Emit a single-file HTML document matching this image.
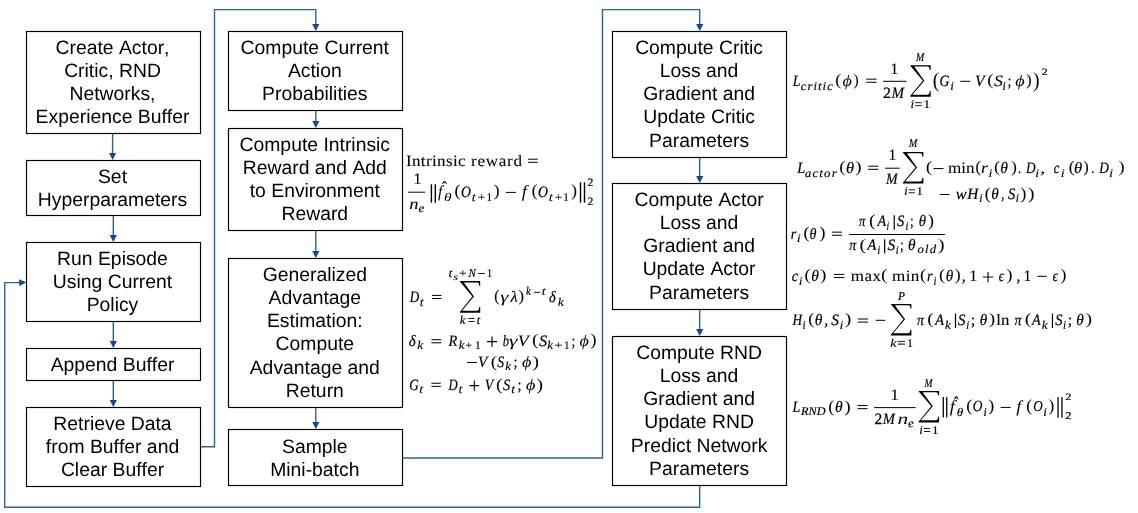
<!DOCTYPE html>
<html><head><meta charset="utf-8"><title>Diagram</title>
<style>
html,body{margin:0;padding:0;background:#fff;}
html,body{overflow:hidden;}
svg{display:block;font-kerning:none;text-rendering:geometricPrecision;will-change:transform;}
text{fill:#000;}
</style></head><body>
<svg width="1138" height="513" viewBox="0 0 1138 513">

<rect x="111.90" y="134.00" width="1.40" height="19.50" fill="#2864a3"/>
<path d="M109.00,153.00 L116.20,153.00 L112.60,160.00 Z" fill="#0f4b90"/>
<rect x="112.60" y="216.00" width="1.40" height="19.50" fill="#2864a3"/>
<path d="M109.70,235.00 L116.90,235.00 L113.30,242.00 Z" fill="#0f4b90"/>
<rect x="112.60" y="322.00" width="1.40" height="19.50" fill="#2864a3"/>
<path d="M109.70,341.00 L116.90,341.00 L113.30,348.00 Z" fill="#0f4b90"/>
<rect x="112.60" y="381.00" width="1.40" height="19.50" fill="#2864a3"/>
<path d="M109.70,400.00 L116.90,400.00 L113.30,407.00 Z" fill="#0f4b90"/>
<rect x="315.10" y="111.00" width="1.40" height="10.50" fill="#2864a3"/>
<path d="M312.20,121.00 L319.40,121.00 L315.80,128.00 Z" fill="#0f4b90"/>
<rect x="315.10" y="231.00" width="1.40" height="20.50" fill="#2864a3"/>
<path d="M312.20,251.00 L319.40,251.00 L315.80,258.00 Z" fill="#0f4b90"/>
<rect x="315.10" y="408.00" width="1.40" height="14.50" fill="#2864a3"/>
<path d="M312.20,422.00 L319.40,422.00 L315.80,429.00 Z" fill="#0f4b90"/>
<rect x="699.00" y="158.00" width="1.40" height="18.50" fill="#2864a3"/>
<path d="M696.10,176.00 L703.30,176.00 L699.70,183.00 Z" fill="#0f4b90"/>
<rect x="699.00" y="310.00" width="1.40" height="19.50" fill="#2864a3"/>
<path d="M696.10,329.00 L703.30,329.00 L699.70,336.00 Z" fill="#0f4b90"/>
<path d="M201.00,446.80 L214.50,446.80 L214.50,9.60 L315.80,9.60 L315.80,24.50" fill="none" stroke="#2864a3" stroke-width="1.4" stroke-linejoin="miter"/>
<rect x="315.10" y="24.00" width="1.40" height="0.50" fill="#2864a3"/>
<path d="M312.20,24.00 L319.40,24.00 L315.80,31.00 Z" fill="#0f4b90"/>
<path d="M403.00,458.00 L602.50,458.00 L602.50,9.60 L699.70,9.60 L699.70,24.50" fill="none" stroke="#2864a3" stroke-width="1.4" stroke-linejoin="miter"/>
<rect x="699.00" y="24.00" width="1.40" height="0.50" fill="#2864a3"/>
<path d="M696.10,24.00 L703.30,24.00 L699.70,31.00 Z" fill="#0f4b90"/>
<path d="M699.70,486.00 L699.70,507.30 L4.70,507.30 L4.70,282.60 L19.60,282.60" fill="none" stroke="#2864a3" stroke-width="1.4" stroke-linejoin="miter"/>
<rect x="19.00" y="281.90" width="0.70" height="1.40" fill="#2864a3"/>
<path d="M19.20,279.20 L19.20,286.00 L26.20,282.60 Z" fill="#0f4b90"/>
<rect x="26.5" y="31.5" width="174" height="102" fill="#fff" stroke="#000" stroke-width="1.15"/>
<text x="112.50" y="53.70" text-anchor="middle" font-family="Liberation Sans" font-size="19.35">Create Actor,</text>
<text x="112.50" y="76.80" text-anchor="middle" font-family="Liberation Sans" font-size="19.35">Critic, RND</text>
<text x="112.50" y="99.90" text-anchor="middle" font-family="Liberation Sans" font-size="19.35">Networks,</text>
<text x="112.50" y="123.00" text-anchor="middle" font-family="Liberation Sans" font-size="19.35">Experience Buffer</text>
<rect x="26.5" y="160.5" width="174" height="55" fill="#fff" stroke="#000" stroke-width="1.15"/>
<text x="112.50" y="183.15" text-anchor="middle" font-family="Liberation Sans" font-size="19.35">Set</text>
<text x="112.50" y="206.25" text-anchor="middle" font-family="Liberation Sans" font-size="19.35">Hyperparameters</text>
<rect x="26.5" y="242.5" width="174" height="79" fill="#fff" stroke="#000" stroke-width="1.15"/>
<text x="112.50" y="264.75" text-anchor="middle" font-family="Liberation Sans" font-size="19.35">Run Episode</text>
<text x="112.50" y="287.85" text-anchor="middle" font-family="Liberation Sans" font-size="19.35">Using Current</text>
<text x="112.50" y="310.95" text-anchor="middle" font-family="Liberation Sans" font-size="19.35">Policy</text>
<rect x="26.5" y="348.5" width="174" height="32" fill="#fff" stroke="#000" stroke-width="1.15"/>
<text x="112.50" y="370.95" text-anchor="middle" font-family="Liberation Sans" font-size="19.35">Append Buffer</text>
<rect x="26.5" y="407.5" width="174" height="79" fill="#fff" stroke="#000" stroke-width="1.15"/>
<text x="112.50" y="429.75" text-anchor="middle" font-family="Liberation Sans" font-size="19.35">Retrieve Data</text>
<text x="112.50" y="452.85" text-anchor="middle" font-family="Liberation Sans" font-size="19.35">from Buffer and</text>
<text x="112.50" y="475.95" text-anchor="middle" font-family="Liberation Sans" font-size="19.35">Clear Buffer</text>
<rect x="228.5" y="31.5" width="174" height="79" fill="#fff" stroke="#000" stroke-width="1.15"/>
<text x="314.80" y="53.75" text-anchor="middle" font-family="Liberation Sans" font-size="19.35">Compute Current</text>
<text x="314.80" y="76.85" text-anchor="middle" font-family="Liberation Sans" font-size="19.35">Action</text>
<text x="314.80" y="99.95" text-anchor="middle" font-family="Liberation Sans" font-size="19.35">Probabilities</text>
<rect x="228.5" y="128.5" width="174" height="102" fill="#fff" stroke="#000" stroke-width="1.15"/>
<text x="314.80" y="150.70" text-anchor="middle" font-family="Liberation Sans" font-size="19.35">Compute Intrinsic</text>
<text x="314.80" y="173.80" text-anchor="middle" font-family="Liberation Sans" font-size="19.35">Reward and Add</text>
<text x="314.80" y="196.90" text-anchor="middle" font-family="Liberation Sans" font-size="19.35">to Environment</text>
<text x="314.80" y="220.00" text-anchor="middle" font-family="Liberation Sans" font-size="19.35">Reward</text>
<rect x="228.5" y="258.5" width="174" height="149" fill="#fff" stroke="#000" stroke-width="1.15"/>
<text x="314.80" y="281.10" text-anchor="middle" font-family="Liberation Sans" font-size="19.35">Generalized</text>
<text x="314.80" y="304.20" text-anchor="middle" font-family="Liberation Sans" font-size="19.35">Advantage</text>
<text x="314.80" y="327.30" text-anchor="middle" font-family="Liberation Sans" font-size="19.35">Estimation:</text>
<text x="314.80" y="350.40" text-anchor="middle" font-family="Liberation Sans" font-size="19.35">Compute</text>
<text x="314.80" y="373.50" text-anchor="middle" font-family="Liberation Sans" font-size="19.35">Advantage and</text>
<text x="314.80" y="396.60" text-anchor="middle" font-family="Liberation Sans" font-size="19.35">Return</text>
<rect x="228.5" y="429.5" width="174" height="56" fill="#fff" stroke="#000" stroke-width="1.15"/>
<text x="314.80" y="452.65" text-anchor="middle" font-family="Liberation Sans" font-size="19.35">Sample</text>
<text x="314.80" y="475.75" text-anchor="middle" font-family="Liberation Sans" font-size="19.35">Mini-batch</text>
<rect x="612.5" y="31.5" width="174" height="126" fill="#fff" stroke="#000" stroke-width="1.15"/>
<text x="699.10" y="54.15" text-anchor="middle" font-family="Liberation Sans" font-size="19.35">Compute Critic</text>
<text x="699.10" y="77.25" text-anchor="middle" font-family="Liberation Sans" font-size="19.35">Loss and</text>
<text x="699.10" y="100.35" text-anchor="middle" font-family="Liberation Sans" font-size="19.35">Gradient and</text>
<text x="699.10" y="123.45" text-anchor="middle" font-family="Liberation Sans" font-size="19.35">Update Critic</text>
<text x="699.10" y="146.55" text-anchor="middle" font-family="Liberation Sans" font-size="19.35">Parameters</text>
<rect x="612.5" y="183.5" width="174" height="126" fill="#fff" stroke="#000" stroke-width="1.15"/>
<text x="699.10" y="206.15" text-anchor="middle" font-family="Liberation Sans" font-size="19.35">Compute Actor</text>
<text x="699.10" y="229.25" text-anchor="middle" font-family="Liberation Sans" font-size="19.35">Loss and</text>
<text x="699.10" y="252.35" text-anchor="middle" font-family="Liberation Sans" font-size="19.35">Gradient and</text>
<text x="699.10" y="275.45" text-anchor="middle" font-family="Liberation Sans" font-size="19.35">Update Actor</text>
<text x="699.10" y="298.55" text-anchor="middle" font-family="Liberation Sans" font-size="19.35">Parameters</text>
<rect x="612.5" y="336.5" width="174" height="149" fill="#fff" stroke="#000" stroke-width="1.15"/>
<text x="699.10" y="359.10" text-anchor="middle" font-family="Liberation Sans" font-size="19.35">Compute RND</text>
<text x="699.10" y="382.20" text-anchor="middle" font-family="Liberation Sans" font-size="19.35">Loss and</text>
<text x="699.10" y="405.30" text-anchor="middle" font-family="Liberation Sans" font-size="19.35">Gradient and</text>
<text x="699.10" y="428.40" text-anchor="middle" font-family="Liberation Sans" font-size="19.35">Update RND</text>
<text x="699.10" y="451.50" text-anchor="middle" font-family="Liberation Sans" font-size="19.35">Predict Network</text>
<text x="699.10" y="474.60" text-anchor="middle" font-family="Liberation Sans" font-size="19.35">Parameters</text>
<text transform="translate(405.89 166.00) scale(1.080 1.000)" font-family="Liberation Serif" font-style="normal" font-size="15.8" letter-spacing="0.34" stroke="#000" stroke-width="0.089">Intrinsic</text>
<text transform="translate(470.96 166.00) scale(1.080 1.000)" font-family="Liberation Serif" font-style="normal" font-size="15.8" letter-spacing="0.68" stroke="#000" stroke-width="0.089">reward</text>
<rect x="528.00" y="158.70" width="9.70" height="1.00" fill="#000"/>
<rect x="528.00" y="161.80" width="9.70" height="1.00" fill="#000"/>
<text transform="translate(413.40 183.80) scale(1.007 1.000)" font-family="Liberation Serif" font-style="normal" font-size="15.8" stroke="#000" stroke-width="0.115">1</text>
<rect x="408.20" y="191.70" width="16.80" height="1.00" fill="#000"/>
<text transform="translate(409.33 208.90) scale(1.170 1.000)" font-family="Liberation Serif" font-style="italic" font-size="15.8" stroke="#000" stroke-width="0.071">n</text>
<text transform="translate(418.39 212.00) scale(1.108 1.000)" font-family="Liberation Serif" font-style="italic" font-size="11.8" stroke="#000" stroke-width="0.139">e</text>
<rect x="430.70" y="184.30" width="1.40" height="18.40" fill="#000"/>
<rect x="434.60" y="184.30" width="1.40" height="18.40" fill="#000"/>
<text transform="translate(437.93 196.67) scale(0.994 1.049)" font-family="Liberation Serif" font-style="italic" font-size="15.8">f</text>
<text transform="translate(441.97 193.16) scale(0.921 1.062)" font-family="Liberation Serif" font-style="normal" font-size="15.8" stroke="#000" stroke-width="0.15">ˆ</text>
<text transform="translate(443.94 200.50) scale(1.315 1.000)" font-family="Liberation Serif" font-style="italic" font-size="11.8" stroke="#000" stroke-width="0.022">θ</text>
<text transform="translate(454.43 196.38) scale(1.108 1.047)" font-family="Liberation Serif" font-style="normal" font-size="15.8" stroke="#000" stroke-width="0.068">(</text>
<text transform="translate(461.11 196.64) scale(0.868 1.008)" font-family="Liberation Serif" font-style="italic" font-size="15.8" stroke="#000" stroke-width="0.2">O</text>
<text transform="translate(471.69 201.00) scale(1.168 1.000)" font-family="Liberation Serif" font-style="italic" font-size="11.8" stroke="#000" stroke-width="0.105">t</text>
<text transform="translate(477.75 200.50) scale(1.093 1.000)" font-family="Liberation Serif" font-style="normal" font-size="11.8" stroke="#000" stroke-width="0.05">+</text>
<text transform="translate(486.33 201.00) scale(1.035 1.000)" font-family="Liberation Serif" font-style="normal" font-size="11.8" stroke="#000" stroke-width="0.1">1</text>
<text transform="translate(493.64 196.38) scale(1.108 1.047)" font-family="Liberation Serif" font-style="normal" font-size="15.8" stroke="#000" stroke-width="0.068">)</text>
<rect x="505.90" y="191.90" width="10.00" height="1.00" fill="#000"/>
<text transform="translate(521.63 197.08) scale(1.150 1.077)" font-family="Liberation Serif" font-style="italic" font-size="15.8">f</text>
<text transform="translate(531.76 196.41) scale(1.059 1.068)" font-family="Liberation Serif" font-style="normal" font-size="15.8" stroke="#000" stroke-width="0.105">(</text>
<text transform="translate(538.11 196.64) scale(0.868 1.008)" font-family="Liberation Serif" font-style="italic" font-size="15.8" stroke="#000" stroke-width="0.2">O</text>
<text transform="translate(548.66 201.00) scale(1.234 1.000)" font-family="Liberation Serif" font-style="italic" font-size="11.8" stroke="#000" stroke-width="0.067">t</text>
<text transform="translate(554.64 200.50) scale(1.112 1.000)" font-family="Liberation Serif" font-style="normal" font-size="11.8" stroke="#000" stroke-width="0.05">+</text>
<text transform="translate(563.02 201.00) scale(1.035 1.000)" font-family="Liberation Serif" font-style="normal" font-size="11.8" stroke="#000" stroke-width="0.1">1</text>
<text transform="translate(571.25 196.41) scale(1.084 1.068)" font-family="Liberation Serif" font-style="normal" font-size="15.8" stroke="#000" stroke-width="0.087">)</text>
<rect x="579.80" y="182.30" width="1.40" height="20.40" fill="#000"/>
<rect x="583.80" y="182.30" width="1.40" height="20.40" fill="#000"/>
<text transform="translate(587.48 185.90) scale(0.993 0.947)" font-family="Liberation Serif" font-style="normal" font-size="11.8" stroke="#000" stroke-width="0.25">2</text>
<text transform="translate(587.48 204.70) scale(0.993 0.960)" font-family="Liberation Serif" font-style="normal" font-size="11.8" stroke="#000" stroke-width="0.25">2</text>
<text transform="translate(409.64 301.80) scale(0.829 1.000)" font-family="Liberation Serif" font-style="italic" font-size="15.8" stroke="#000" stroke-width="0.2">D</text>
<text transform="translate(419.71 305.50) scale(1.134 1.000)" font-family="Liberation Serif" font-style="italic" font-size="11.8" stroke="#000" stroke-width="0.124">t</text>
<rect x="432.00" y="294.90" width="9.50" height="1.00" fill="#000"/>
<rect x="432.00" y="298.00" width="9.50" height="1.00" fill="#000"/>
<text transform="translate(448.59 276.90) scale(1.168 1.000)" font-family="Liberation Serif" font-style="italic" font-size="11.8" stroke="#000" stroke-width="0.105">t</text>
<text transform="translate(453.35 279.80) scale(1.261 1.000)" font-family="Liberation Serif" font-style="italic" font-size="9.6" stroke="#000" stroke-width="0.08">s</text>
<text transform="translate(459.11 276.90) scale(1.166 1.000)" font-family="Liberation Serif" font-style="normal" font-size="11.8" stroke="#000" stroke-width="0.05">+</text>
<text transform="translate(468.58 276.90) scale(0.930 1.000)" font-family="Liberation Serif" font-style="italic" font-size="11.8" stroke="#000" stroke-width="0.2">N</text>
<rect x="478.20" y="273.05" width="6.60" height="0.90" fill="#000"/>
<text transform="translate(486.55 276.90) scale(1.011 1.000)" font-family="Liberation Serif" font-style="normal" font-size="11.8" stroke="#000" stroke-width="0.114">1</text>
<path d="M460.00,281.10 L480.20,281.10 L480.20,285.84 L479.29,285.84 L478.79,283.31 L477.57,282.43 L463.84,282.43 L473.94,296.58 L462.02,310.65 L477.37,310.65 L478.79,309.54 L479.29,307.01 L480.20,307.01 L480.20,312.70 L460.00,312.70 L460.00,311.82 L472.42,296.58 L460.00,281.73 Z" fill="#000"/>
<text transform="translate(459.83 323.70) scale(1.067 1.000)" font-family="Liberation Serif" font-style="italic" font-size="11.8" stroke="#000" stroke-width="0.162">k</text>
<rect x="468.40" y="317.95" width="6.20" height="0.90" fill="#000"/>
<rect x="468.40" y="321.05" width="6.20" height="0.90" fill="#000"/>
<text transform="translate(476.59 323.70) scale(1.168 1.000)" font-family="Liberation Serif" font-style="italic" font-size="11.8" stroke="#000" stroke-width="0.105">t</text>
<text transform="translate(494.23 301.29) scale(0.960 1.012)" font-family="Liberation Serif" font-style="normal" font-size="15.8" stroke="#000" stroke-width="0.15">(</text>
<text transform="translate(500.13 301.80) scale(1.304 1.000)" font-family="Liberation Serif" font-style="italic" font-size="15.8">γ</text>
<text transform="translate(510.39 301.80) scale(1.040 1.000)" font-family="Liberation Serif" font-style="italic" font-size="15.8" stroke="#000" stroke-width="0.17">λ</text>
<text transform="translate(518.56 301.29) scale(1.059 1.012)" font-family="Liberation Serif" font-style="normal" font-size="15.8" stroke="#000" stroke-width="0.105">)</text>
<text transform="translate(525.89 295.40) scale(0.909 1.000)" font-family="Liberation Serif" font-style="italic" font-size="11.8" stroke="#000" stroke-width="0.2">k</text>
<rect x="533.90" y="291.85" width="6.40" height="0.90" fill="#000"/>
<text transform="translate(541.43 295.40) scale(1.350 1.000)" font-family="Liberation Serif" font-style="italic" font-size="11.8" stroke="#000" stroke-width="0.002">t</text>
<text transform="translate(548.88 301.60) scale(0.916 1.000)" font-family="Liberation Serif" font-style="italic" font-size="15.8" stroke="#000" stroke-width="0.2">δ</text>
<text transform="translate(557.71 305.60) scale(1.146 1.000)" font-family="Liberation Serif" font-style="italic" font-size="11.8" stroke="#000" stroke-width="0.117">k</text>
<text transform="translate(408.77 345.70) scale(0.944 1.000)" font-family="Liberation Serif" font-style="italic" font-size="15.8" stroke="#000" stroke-width="0.2">δ</text>
<text transform="translate(417.21 348.80) scale(1.126 1.000)" font-family="Liberation Serif" font-style="italic" font-size="11.8" stroke="#000" stroke-width="0.129">k</text>
<rect x="431.40" y="339.20" width="9.80" height="1.00" fill="#000"/>
<rect x="431.40" y="342.30" width="9.80" height="1.00" fill="#000"/>
<text transform="translate(448.57 345.70) scale(0.909 1.000)" font-family="Liberation Serif" font-style="italic" font-size="15.8" stroke="#000" stroke-width="0.2">R</text>
<text transform="translate(458.73 348.80) scale(1.067 1.000)" font-family="Liberation Serif" font-style="italic" font-size="11.8" stroke="#000" stroke-width="0.162">k</text>
<text transform="translate(465.52 348.80) scale(0.984 1.000)" font-family="Liberation Serif" font-style="normal" font-size="11.8" stroke="#000" stroke-width="0.05">+</text>
<text transform="translate(474.43 348.80) scale(1.132 1.000)" font-family="Liberation Serif" font-style="normal" font-size="11.8" stroke="#000" stroke-width="0.045">1</text>
<text transform="translate(486.02 348.79) scale(1.361 1.399)" font-family="Liberation Serif" font-style="normal" font-size="15.8" stroke="#000" stroke-width="0.05">+</text>
<text transform="translate(502.80 345.70) scale(0.800 1.000)" font-family="Liberation Serif" font-style="italic" font-size="15.8" stroke="#000" stroke-width="0.2">b</text>
<text transform="translate(509.07 345.70) scale(1.350 1.000)" font-family="Liberation Serif" font-style="italic" font-size="15.8">γ</text>
<text transform="translate(517.77 345.70) scale(1.131 1.000)" font-family="Liberation Serif" font-style="italic" font-size="15.8" stroke="#000" stroke-width="0.101">V</text>
<text transform="translate(532.09 344.82) scale(1.250 1.033)" font-family="Liberation Serif" font-style="normal" font-size="15.8">(</text>
<text transform="translate(538.90 345.70) scale(1.033 1.000)" font-family="Liberation Serif" font-style="italic" font-size="15.8" stroke="#000" stroke-width="0.175">S</text>
<text transform="translate(547.33 348.80) scale(1.067 1.000)" font-family="Liberation Serif" font-style="italic" font-size="11.8" stroke="#000" stroke-width="0.162">k</text>
<text transform="translate(554.60 348.80) scale(1.185 1.000)" font-family="Liberation Serif" font-style="normal" font-size="11.8" stroke="#000" stroke-width="0.05">+</text>
<text transform="translate(564.12 348.80) scale(0.939 1.000)" font-family="Liberation Serif" font-style="normal" font-size="11.8" stroke="#000" stroke-width="0.12">1</text>
<text transform="translate(571.50 345.70) scale(0.850 1.000)" font-family="Liberation Serif" font-style="normal" font-size="15.8" stroke="#000" stroke-width="0.15">;</text>
<text transform="translate(579.60 345.70) scale(1.150 1.000)" font-family="Liberation Serif" font-style="italic" font-size="15.8">ϕ</text>
<text transform="translate(590.65 344.82) scale(1.084 1.033)" font-family="Liberation Serif" font-style="normal" font-size="15.8" stroke="#000" stroke-width="0.087">)</text>
<rect x="467.20" y="362.00" width="9.60" height="1.00" fill="#000"/>
<text transform="translate(478.01 366.60) scale(0.966 1.000)" font-family="Liberation Serif" font-style="italic" font-size="15.8" stroke="#000" stroke-width="0.2">V</text>
<text transform="translate(490.64 366.82) scale(1.231 1.033)" font-family="Liberation Serif" font-style="normal" font-size="15.8">(</text>
<text transform="translate(497.23 366.60) scale(0.872 1.000)" font-family="Liberation Serif" font-style="italic" font-size="15.8" stroke="#000" stroke-width="0.2">S</text>
<text transform="translate(505.13 369.50) scale(1.067 1.000)" font-family="Liberation Serif" font-style="italic" font-size="11.8" stroke="#000" stroke-width="0.162">k</text>
<text transform="translate(513.53 366.60) scale(0.935 1.000)" font-family="Liberation Serif" font-style="normal" font-size="15.8" stroke="#000" stroke-width="0.15">;</text>
<text transform="translate(522.00 366.60) scale(1.150 1.000)" font-family="Liberation Serif" font-style="italic" font-size="15.8">ϕ</text>
<text transform="translate(532.38 366.82) scale(1.231 1.033)" font-family="Liberation Serif" font-style="normal" font-size="15.8">)</text>
<text transform="translate(409.18 389.70) scale(0.833 1.000)" font-family="Liberation Serif" font-style="italic" font-size="15.8" stroke="#000" stroke-width="0.2">G</text>
<text transform="translate(419.01 392.80) scale(1.335 1.000)" font-family="Liberation Serif" font-style="italic" font-size="11.8" stroke="#000" stroke-width="0.01">t</text>
<rect x="431.40" y="382.75" width="9.40" height="1.00" fill="#000"/>
<rect x="431.40" y="385.85" width="9.40" height="1.00" fill="#000"/>
<text transform="translate(448.55 389.70) scale(0.800 1.000)" font-family="Liberation Serif" font-style="italic" font-size="15.8" stroke="#000" stroke-width="0.2">D</text>
<text transform="translate(458.48 392.80) scale(1.201 1.000)" font-family="Liberation Serif" font-style="italic" font-size="11.8" stroke="#000" stroke-width="0.086">t</text>
<text transform="translate(468.57 392.79) scale(1.307 1.399)" font-family="Liberation Serif" font-style="normal" font-size="15.8" stroke="#000" stroke-width="0.05">+</text>
<text transform="translate(484.87 389.70) scale(0.889 1.000)" font-family="Liberation Serif" font-style="italic" font-size="15.8" stroke="#000" stroke-width="0.2">V</text>
<text transform="translate(496.09 389.90) scale(1.250 1.040)" font-family="Liberation Serif" font-style="normal" font-size="15.8">(</text>
<text transform="translate(502.93 389.70) scale(0.912 1.000)" font-family="Liberation Serif" font-style="italic" font-size="15.8" stroke="#000" stroke-width="0.2">S</text>
<text transform="translate(511.33 392.80) scale(1.101 1.000)" font-family="Liberation Serif" font-style="italic" font-size="11.8" stroke="#000" stroke-width="0.143">t</text>
<text transform="translate(517.53 389.70) scale(0.935 1.000)" font-family="Liberation Serif" font-style="normal" font-size="15.8" stroke="#000" stroke-width="0.15">;</text>
<text transform="translate(525.90 389.70) scale(1.150 1.000)" font-family="Liberation Serif" font-style="italic" font-size="15.8">ϕ</text>
<text transform="translate(536.58 389.90) scale(1.250 1.040)" font-family="Liberation Serif" font-style="normal" font-size="15.8">)</text>
<text transform="translate(792.67 86.00) scale(0.887 1.000)" font-family="Liberation Serif" font-style="italic" font-size="15.8" stroke="#000" stroke-width="0.2">L</text>
<text transform="translate(800.70 89.60) scale(1.080 1.000)" font-family="Liberation Serif" font-style="italic" font-size="11.8" letter-spacing="0.97" stroke="#000" stroke-width="0.155">critic</text>
<text transform="translate(835.31 85.49) scale(1.133 1.012)" font-family="Liberation Serif" font-style="normal" font-size="15.8" stroke="#000" stroke-width="0.049">(</text>
<text transform="translate(842.50 86.00) scale(1.150 1.000)" font-family="Liberation Serif" font-style="italic" font-size="15.8">ϕ</text>
<text transform="translate(853.84 85.49) scale(0.911 1.012)" font-family="Liberation Serif" font-style="normal" font-size="15.8" stroke="#000" stroke-width="0.15">)</text>
<rect x="866.20" y="78.65" width="10.40" height="1.00" fill="#000"/>
<rect x="866.20" y="81.75" width="10.40" height="1.00" fill="#000"/>
<rect x="883.00" y="80.80" width="23.60" height="1.00" fill="#000"/>
<text transform="translate(889.70 73.90) scale(1.151 1.000)" font-family="Liberation Serif" font-style="normal" font-size="15.8" stroke="#000" stroke-width="0.006">1</text>
<text transform="translate(883.00 98.00) scale(1.010 1.000)" font-family="Liberation Serif" font-style="normal" font-size="15.8" stroke="#000" stroke-width="0.242">2</text>
<text transform="translate(891.48 98.00) scale(0.952 1.000)" font-family="Liberation Serif" font-style="italic" font-size="15.8" stroke="#000" stroke-width="0.2">M</text>
<path d="M910.30,65.20 L930.70,65.20 L930.70,69.92 L929.78,69.92 L929.27,67.41 L928.05,66.52 L914.18,66.52 L924.38,80.64 L912.34,94.65 L927.84,94.65 L929.27,93.55 L929.78,91.03 L930.70,91.03 L930.70,96.70 L910.30,96.70 L910.30,95.82 L922.85,80.64 L910.30,65.83 Z" fill="#000"/>
<text transform="translate(916.02 61.10) scale(0.837 1.000)" font-family="Liberation Serif" font-style="italic" font-size="11.8" stroke="#000" stroke-width="0.2">M</text>
<text transform="translate(910.47 107.90) scale(1.098 1.000)" font-family="Liberation Serif" font-style="italic" font-size="11.8" stroke="#000" stroke-width="0.144">i</text>
<rect x="915.16" y="102.25" width="6.53" height="0.90" fill="#000"/>
<rect x="915.16" y="105.25" width="6.53" height="0.90" fill="#000"/>
<text transform="translate(922.81 107.90) scale(1.350 1.000)" font-family="Liberation Serif" font-style="normal" font-size="11.8">1</text>
<text transform="translate(932.69 86.84) scale(1.250 1.354)" font-family="Liberation Serif" font-style="normal" font-size="15.8">(</text>
<text transform="translate(939.54 86.00) scale(0.872 1.000)" font-family="Liberation Serif" font-style="italic" font-size="15.8" stroke="#000" stroke-width="0.2">G</text>
<text transform="translate(950.17 89.60) scale(1.103 1.000)" font-family="Liberation Serif" font-style="italic" font-size="11.8" stroke="#000" stroke-width="0.141">i</text>
<rect x="960.30" y="80.80" width="10.00" height="1.00" fill="#000"/>
<text transform="translate(974.98 86.00) scale(0.995 1.000)" font-family="Liberation Serif" font-style="italic" font-size="15.8" stroke="#000" stroke-width="0.2">V</text>
<text transform="translate(987.28 85.49) scale(1.182 1.012)" font-family="Liberation Serif" font-style="normal" font-size="15.8" stroke="#000" stroke-width="0.012">(</text>
<text transform="translate(993.89 86.00) scale(1.126 1.000)" font-family="Liberation Serif" font-style="italic" font-size="15.8" stroke="#000" stroke-width="0.104">S</text>
<text transform="translate(1002.37 89.60) scale(1.103 1.000)" font-family="Liberation Serif" font-style="italic" font-size="11.8" stroke="#000" stroke-width="0.141">i</text>
<text transform="translate(1007.57 86.00) scale(0.892 1.000)" font-family="Liberation Serif" font-style="normal" font-size="15.8" stroke="#000" stroke-width="0.15">;</text>
<text transform="translate(1015.20 86.00) scale(1.150 1.000)" font-family="Liberation Serif" font-style="italic" font-size="15.8">ϕ</text>
<text transform="translate(1026.29 85.49) scale(1.010 1.012)" font-family="Liberation Serif" font-style="normal" font-size="15.8" stroke="#000" stroke-width="0.143">)</text>
<text transform="translate(1033.03 86.84) scale(1.250 1.354)" font-family="Liberation Serif" font-style="normal" font-size="15.8">)</text>
<text transform="translate(1041.78 74.90) scale(0.993 0.819)" font-family="Liberation Serif" font-style="normal" font-size="11.8" stroke="#000" stroke-width="0.25">2</text>
<text transform="translate(797.28 172.90) scale(0.923 1.000)" font-family="Liberation Serif" font-style="italic" font-size="15.8" stroke="#000" stroke-width="0.2">L</text>
<text transform="translate(804.92 176.60) scale(1.080 1.000)" font-family="Liberation Serif" font-style="italic" font-size="11.8" letter-spacing="1.12" stroke="#000" stroke-width="0.155">actor</text>
<text transform="translate(839.26 172.39) scale(1.207 1.012)" font-family="Liberation Serif" font-style="normal" font-size="15.8">(</text>
<text transform="translate(846.09 172.90) scale(1.042 1.000)" font-family="Liberation Serif" font-style="italic" font-size="15.8" stroke="#000" stroke-width="0.168">θ</text>
<text transform="translate(855.19 172.39) scale(1.207 1.012)" font-family="Liberation Serif" font-style="normal" font-size="15.8">)</text>
<rect x="868.20" y="165.70" width="10.10" height="1.00" fill="#000"/>
<rect x="868.20" y="168.80" width="10.10" height="1.00" fill="#000"/>
<rect x="885.00" y="167.70" width="14.60" height="1.00" fill="#000"/>
<text transform="translate(888.52 160.20) scale(0.989 1.000)" font-family="Liberation Serif" font-style="normal" font-size="15.8" stroke="#000" stroke-width="0.12">1</text>
<text transform="translate(885.97 184.40) scale(0.881 1.000)" font-family="Liberation Serif" font-style="italic" font-size="15.8" stroke="#000" stroke-width="0.2">M</text>
<path d="M903.00,152.00 L923.40,152.00 L923.40,156.72 L922.48,156.72 L921.97,154.21 L920.75,153.32 L906.88,153.32 L917.08,167.44 L905.04,181.45 L920.54,181.45 L921.97,180.35 L922.48,177.83 L923.40,177.83 L923.40,183.50 L903.00,183.50 L903.00,182.62 L915.55,167.44 L903.00,152.63 Z" fill="#000"/>
<text transform="translate(909.12 147.30) scale(0.847 1.000)" font-family="Liberation Serif" font-style="italic" font-size="11.8" stroke="#000" stroke-width="0.2">M</text>
<text transform="translate(904.22 195.00) scale(1.035 1.000)" font-family="Liberation Serif" font-style="italic" font-size="11.8" stroke="#000" stroke-width="0.18">i</text>
<rect x="908.68" y="189.35" width="6.19" height="0.90" fill="#000"/>
<rect x="908.68" y="192.35" width="6.19" height="0.90" fill="#000"/>
<text transform="translate(915.86 195.00) scale(1.317 1.000)" font-family="Liberation Serif" font-style="normal" font-size="11.8">1</text>
<text transform="translate(925.79 172.39) scale(1.250 1.012)" font-family="Liberation Serif" font-style="normal" font-size="15.8">(</text>
<rect x="933.30" y="168.10" width="10.30" height="1.00" fill="#000"/>
<text transform="translate(947.94 172.90) scale(1.080 1.000)" font-family="Liberation Serif" font-style="normal" font-size="15.8" letter-spacing="0.03" stroke="#000" stroke-width="0.089">min</text>
<text transform="translate(975.60 172.39) scale(1.010 1.012)" font-family="Liberation Serif" font-style="normal" font-size="15.8" stroke="#000" stroke-width="0.143">(</text>
<text transform="translate(980.98 172.90) scale(1.118 1.000)" font-family="Liberation Serif" font-style="italic" font-size="15.8" stroke="#000" stroke-width="0.111">r</text>
<text transform="translate(988.51 176.60) scale(1.192 1.000)" font-family="Liberation Serif" font-style="italic" font-size="11.8" stroke="#000" stroke-width="0.091">i</text>
<text transform="translate(993.88 172.39) scale(1.182 1.012)" font-family="Liberation Serif" font-style="normal" font-size="15.8" stroke="#000" stroke-width="0.012">(</text>
<text transform="translate(1000.14 172.90) scale(0.982 1.000)" font-family="Liberation Serif" font-style="italic" font-size="15.8" stroke="#000" stroke-width="0.2">θ</text>
<text transform="translate(1011.36 172.39) scale(1.059 1.012)" font-family="Liberation Serif" font-style="normal" font-size="15.8" stroke="#000" stroke-width="0.105">)</text>
<text transform="translate(1017.96 172.90) scale(0.805 1.000)" font-family="Liberation Serif" font-style="normal" font-size="15.8" stroke="#000" stroke-width="0.15">.</text>
<text transform="translate(1026.05 172.90) scale(0.837 1.000)" font-family="Liberation Serif" font-style="italic" font-size="15.8" stroke="#000" stroke-width="0.2">D</text>
<text transform="translate(1035.12 176.60) scale(1.324 1.000)" font-family="Liberation Serif" font-style="italic" font-size="11.8" stroke="#000" stroke-width="0.016">i</text>
<text transform="translate(1039.95 172.90) scale(1.350 1.000)" font-family="Liberation Serif" font-style="italic" font-size="15.8">,</text>
<text transform="translate(1053.77 172.90) scale(0.800 1.000)" font-family="Liberation Serif" font-style="italic" font-size="15.8" stroke="#000" stroke-width="0.2">c</text>
<text transform="translate(1060.58 176.60) scale(1.350 1.000)" font-family="Liberation Serif" font-style="italic" font-size="11.8" stroke="#000" stroke-width="0.002">i</text>
<text transform="translate(1068.65 172.39) scale(1.084 1.012)" font-family="Liberation Serif" font-style="normal" font-size="15.8" stroke="#000" stroke-width="0.087">(</text>
<text transform="translate(1074.08 172.90) scale(1.057 1.000)" font-family="Liberation Serif" font-style="italic" font-size="15.8" stroke="#000" stroke-width="0.156">θ</text>
<text transform="translate(1083.50 172.39) scale(0.985 1.012)" font-family="Liberation Serif" font-style="normal" font-size="15.8" stroke="#000" stroke-width="0.15">)</text>
<text transform="translate(1091.22 172.90) scale(0.800 1.000)" font-family="Liberation Serif" font-style="normal" font-size="15.8" stroke="#000" stroke-width="0.15">.</text>
<text transform="translate(1099.35 172.90) scale(0.837 1.000)" font-family="Liberation Serif" font-style="italic" font-size="15.8" stroke="#000" stroke-width="0.2">D</text>
<text transform="translate(1108.95 176.60) scale(1.280 1.000)" font-family="Liberation Serif" font-style="italic" font-size="11.8" stroke="#000" stroke-width="0.041">i</text>
<text transform="translate(1118.85 172.39) scale(1.084 1.012)" font-family="Liberation Serif" font-style="normal" font-size="15.8" stroke="#000" stroke-width="0.087">)</text>
<rect x="939.90" y="194.00" width="9.60" height="1.00" fill="#000"/>
<text transform="translate(955.71 198.70) scale(1.035 1.000)" font-family="Liberation Serif" font-style="italic" font-size="15.8" stroke="#000" stroke-width="0.173">w</text>
<text transform="translate(967.27 198.70) scale(0.968 1.000)" font-family="Liberation Serif" font-style="italic" font-size="15.8" stroke="#000" stroke-width="0.2">H</text>
<text transform="translate(979.36 201.50) scale(0.971 1.000)" font-family="Liberation Serif" font-style="italic" font-size="11.8" stroke="#000" stroke-width="0.2">i</text>
<text transform="translate(984.85 198.98) scale(1.084 1.047)" font-family="Liberation Serif" font-style="normal" font-size="15.8" stroke="#000" stroke-width="0.087">(</text>
<text transform="translate(991.25 198.70) scale(0.967 1.000)" font-family="Liberation Serif" font-style="italic" font-size="15.8" stroke="#000" stroke-width="0.2">θ</text>
<text transform="translate(1001.16 198.70) scale(0.800 1.000)" font-family="Liberation Serif" font-style="italic" font-size="15.8" stroke="#000" stroke-width="0.2">,</text>
<text transform="translate(1008.03 198.70) scale(0.912 1.000)" font-family="Liberation Serif" font-style="italic" font-size="15.8" stroke="#000" stroke-width="0.2">S</text>
<text transform="translate(1015.86 201.50) scale(0.971 1.000)" font-family="Liberation Serif" font-style="italic" font-size="11.8" stroke="#000" stroke-width="0.2">i</text>
<text transform="translate(1020.54 198.98) scale(1.108 1.047)" font-family="Liberation Serif" font-style="normal" font-size="15.8" stroke="#000" stroke-width="0.068">)</text>
<text transform="translate(1028.03 198.98) scale(1.250 1.047)" font-family="Liberation Serif" font-style="normal" font-size="15.8">)</text>
<text transform="translate(790.83 238.70) scale(0.884 1.000)" font-family="Liberation Serif" font-style="italic" font-size="15.8" stroke="#000" stroke-width="0.2">r</text>
<text transform="translate(796.68 241.70) scale(1.236 1.000)" font-family="Liberation Serif" font-style="italic" font-size="11.8" stroke="#000" stroke-width="0.066">i</text>
<text transform="translate(803.51 237.98) scale(1.133 1.047)" font-family="Liberation Serif" font-style="normal" font-size="15.8" stroke="#000" stroke-width="0.049">(</text>
<text transform="translate(809.41 238.70) scale(0.891 1.000)" font-family="Liberation Serif" font-style="italic" font-size="15.8" stroke="#000" stroke-width="0.2">θ</text>
<text transform="translate(819.43 237.98) scale(1.133 1.047)" font-family="Liberation Serif" font-style="normal" font-size="15.8" stroke="#000" stroke-width="0.049">)</text>
<rect x="832.10" y="231.65" width="9.90" height="1.00" fill="#000"/>
<rect x="832.10" y="234.75" width="9.90" height="1.00" fill="#000"/>
<rect x="849.10" y="234.00" width="95.80" height="1.00" fill="#000"/>
<text transform="translate(858.91 225.80) scale(0.800 1.000)" font-family="Liberation Serif" font-style="italic" font-size="15.8" stroke="#000" stroke-width="0.2">π</text>
<text transform="translate(869.04 225.98) scale(1.231 1.075)" font-family="Liberation Serif" font-style="normal" font-size="15.8">(</text>
<text transform="translate(877.38 225.80) scale(0.899 1.000)" font-family="Liberation Serif" font-style="italic" font-size="15.8" stroke="#000" stroke-width="0.2">A</text>
<text transform="translate(886.42 229.60) scale(0.800 1.000)" font-family="Liberation Serif" font-style="italic" font-size="11.8" stroke="#000" stroke-width="0.2">i</text>
<rect x="893.65" y="215.20" width="1.20" height="14.50" fill="#000"/>
<text transform="translate(896.92 225.80) scale(0.925 1.000)" font-family="Liberation Serif" font-style="italic" font-size="15.8" stroke="#000" stroke-width="0.2">S</text>
<text transform="translate(905.52 229.60) scale(0.883 1.000)" font-family="Liberation Serif" font-style="italic" font-size="11.8" stroke="#000" stroke-width="0.2">i</text>
<text transform="translate(909.90 225.80) scale(0.850 1.000)" font-family="Liberation Serif" font-style="normal" font-size="15.8" stroke="#000" stroke-width="0.15">;</text>
<text transform="translate(918.77 225.80) scale(0.937 1.000)" font-family="Liberation Serif" font-style="italic" font-size="15.8" stroke="#000" stroke-width="0.2">θ</text>
<text transform="translate(927.93 225.98) scale(1.133 1.075)" font-family="Liberation Serif" font-style="normal" font-size="15.8" stroke="#000" stroke-width="0.049">)</text>
<text transform="translate(849.33 250.10) scale(0.890 1.000)" font-family="Liberation Serif" font-style="italic" font-size="15.8" stroke="#000" stroke-width="0.2">π</text>
<text transform="translate(859.54 249.82) scale(1.250 1.033)" font-family="Liberation Serif" font-style="normal" font-size="15.8">(</text>
<text transform="translate(867.32 250.10) scale(0.946 1.000)" font-family="Liberation Serif" font-style="italic" font-size="15.8" stroke="#000" stroke-width="0.2">A</text>
<text transform="translate(877.29 253.50) scale(0.927 1.000)" font-family="Liberation Serif" font-style="italic" font-size="11.8" stroke="#000" stroke-width="0.2">i</text>
<rect x="884.05" y="239.30" width="1.20" height="14.10" fill="#000"/>
<text transform="translate(887.41 250.10) scale(0.979 1.000)" font-family="Liberation Serif" font-style="italic" font-size="15.8" stroke="#000" stroke-width="0.2">S</text>
<text transform="translate(895.82 253.50) scale(0.883 1.000)" font-family="Liberation Serif" font-style="italic" font-size="11.8" stroke="#000" stroke-width="0.2">i</text>
<text transform="translate(900.10 250.10) scale(0.850 1.000)" font-family="Liberation Serif" font-style="normal" font-size="15.8" stroke="#000" stroke-width="0.15">;</text>
<text transform="translate(907.95 250.10) scale(0.967 1.000)" font-family="Liberation Serif" font-style="italic" font-size="15.8" stroke="#000" stroke-width="0.2">θ</text>
<text transform="translate(917.52 252.70) scale(1.080 1.000)" font-family="Liberation Serif" font-style="italic" font-size="11.8" letter-spacing="1.10" stroke="#000" stroke-width="0.155">old</text>
<text transform="translate(937.98 249.82) scale(1.250 1.033)" font-family="Liberation Serif" font-style="normal" font-size="15.8">)</text>
<text transform="translate(791.85 280.80) scale(0.929 1.000)" font-family="Liberation Serif" font-style="italic" font-size="15.8" stroke="#000" stroke-width="0.2">c</text>
<text transform="translate(798.45 284.50) scale(1.280 1.000)" font-family="Liberation Serif" font-style="italic" font-size="11.8" stroke="#000" stroke-width="0.041">i</text>
<text transform="translate(804.60 280.29) scale(1.157 1.012)" font-family="Liberation Serif" font-style="normal" font-size="15.8" stroke="#000" stroke-width="0.031">(</text>
<text transform="translate(811.24 280.80) scale(0.982 1.000)" font-family="Liberation Serif" font-style="italic" font-size="15.8" stroke="#000" stroke-width="0.2">θ</text>
<text transform="translate(820.21 280.29) scale(1.157 1.012)" font-family="Liberation Serif" font-style="normal" font-size="15.8" stroke="#000" stroke-width="0.031">)</text>
<rect x="834.10" y="273.90" width="10.20" height="1.00" fill="#000"/>
<rect x="834.10" y="277.00" width="10.20" height="1.00" fill="#000"/>
<text transform="translate(850.74 280.80) scale(1.080 1.000)" font-family="Liberation Serif" font-style="normal" font-size="15.8" letter-spacing="0.41" stroke="#000" stroke-width="0.089">max</text>
<text transform="translate(880.94 280.29) scale(1.250 1.012)" font-family="Liberation Serif" font-style="normal" font-size="15.8">(</text>
<text transform="translate(892.04 280.80) scale(1.080 1.000)" font-family="Liberation Serif" font-style="normal" font-size="15.8" letter-spacing="0.31" stroke="#000" stroke-width="0.089">min</text>
<text transform="translate(920.10 280.29) scale(1.157 1.012)" font-family="Liberation Serif" font-style="normal" font-size="15.8" stroke="#000" stroke-width="0.031">(</text>
<text transform="translate(926.90 280.80) scale(0.920 1.000)" font-family="Liberation Serif" font-style="italic" font-size="15.8" stroke="#000" stroke-width="0.2">r</text>
<text transform="translate(933.52 284.50) scale(0.883 1.000)" font-family="Liberation Serif" font-style="italic" font-size="11.8" stroke="#000" stroke-width="0.2">i</text>
<text transform="translate(939.00 280.29) scale(1.157 1.012)" font-family="Liberation Serif" font-style="normal" font-size="15.8" stroke="#000" stroke-width="0.031">(</text>
<text transform="translate(945.65 280.80) scale(0.967 1.000)" font-family="Liberation Serif" font-style="italic" font-size="15.8" stroke="#000" stroke-width="0.2">θ</text>
<text transform="translate(955.06 280.29) scale(1.059 1.012)" font-family="Liberation Serif" font-style="normal" font-size="15.8" stroke="#000" stroke-width="0.105">)</text>
<text transform="translate(961.66 280.80) scale(1.027 1.000)" font-family="Liberation Serif" font-style="italic" font-size="15.8" stroke="#000" stroke-width="0.179">,</text>
<text transform="translate(969.00 280.80) scale(1.079 1.000)" font-family="Liberation Serif" font-style="normal" font-size="15.8" stroke="#000" stroke-width="0.06">1</text>
<text transform="translate(982.12 283.80) scale(1.361 1.345)" font-family="Liberation Serif" font-style="normal" font-size="15.8" stroke="#000" stroke-width="0.05">+</text>
<text transform="translate(998.71 280.80) scale(0.800 1.000)" font-family="Liberation Serif" font-style="italic" font-size="15.8" stroke="#000" stroke-width="0.2">ϵ</text>
<text transform="translate(1006.43 280.29) scale(1.133 1.012)" font-family="Liberation Serif" font-style="normal" font-size="15.8" stroke="#000" stroke-width="0.049">)</text>
<text transform="translate(1016.59 280.80) scale(0.986 1.000)" font-family="Liberation Serif" font-style="italic" font-size="15.8" stroke="#000" stroke-width="0.2">,</text>
<text transform="translate(1023.62 280.80) scale(0.989 1.000)" font-family="Liberation Serif" font-style="normal" font-size="15.8" stroke="#000" stroke-width="0.12">1</text>
<rect x="1037.30" y="275.80" width="9.50" height="1.00" fill="#000"/>
<text transform="translate(1052.71 280.80) scale(0.800 1.000)" font-family="Liberation Serif" font-style="italic" font-size="15.8" stroke="#000" stroke-width="0.2">ϵ</text>
<text transform="translate(1060.86 280.29) scale(1.059 1.012)" font-family="Liberation Serif" font-style="normal" font-size="15.8" stroke="#000" stroke-width="0.105">)</text>
<text transform="translate(792.45 324.80) scale(0.838 1.000)" font-family="Liberation Serif" font-style="italic" font-size="15.8" stroke="#000" stroke-width="0.2">H</text>
<text transform="translate(802.59 328.70) scale(0.927 1.000)" font-family="Liberation Serif" font-style="italic" font-size="11.8" stroke="#000" stroke-width="0.2">i</text>
<text transform="translate(808.21 324.29) scale(1.133 1.012)" font-family="Liberation Serif" font-style="normal" font-size="15.8" stroke="#000" stroke-width="0.049">(</text>
<text transform="translate(814.74 324.80) scale(0.982 1.000)" font-family="Liberation Serif" font-style="italic" font-size="15.8" stroke="#000" stroke-width="0.2">θ</text>
<text transform="translate(824.29 324.80) scale(0.986 1.000)" font-family="Liberation Serif" font-style="italic" font-size="15.8" stroke="#000" stroke-width="0.2">,</text>
<text transform="translate(831.21 324.80) scale(0.979 1.000)" font-family="Liberation Serif" font-style="italic" font-size="15.8" stroke="#000" stroke-width="0.2">S</text>
<text transform="translate(839.22 328.70) scale(1.324 1.000)" font-family="Liberation Serif" font-style="italic" font-size="11.8" stroke="#000" stroke-width="0.016">i</text>
<text transform="translate(844.78 324.29) scale(1.250 1.012)" font-family="Liberation Serif" font-style="normal" font-size="15.8">)</text>
<rect x="857.80" y="318.50" width="10.20" height="1.00" fill="#000"/>
<rect x="857.80" y="321.60" width="10.20" height="1.00" fill="#000"/>
<rect x="875.70" y="319.80" width="9.50" height="1.00" fill="#000"/>
<path d="M891.00,303.90 L911.40,303.90 L911.40,308.62 L910.48,308.62 L909.97,306.10 L908.75,305.22 L894.88,305.22 L905.08,319.33 L893.04,333.35 L908.54,333.35 L909.97,332.25 L910.48,329.73 L911.40,329.73 L911.40,335.40 L891.00,335.40 L891.00,334.52 L903.55,319.33 L891.00,304.53 Z" fill="#000"/>
<text transform="translate(898.06 300.00) scale(0.962 1.000)" font-family="Liberation Serif" font-style="italic" font-size="11.8" stroke="#000" stroke-width="0.2">P</text>
<text transform="translate(890.29 346.70) scale(1.185 1.000)" font-family="Liberation Serif" font-style="italic" font-size="11.8" stroke="#000" stroke-width="0.095">k</text>
<text transform="translate(897.15 347.37) scale(1.276 1.051)" font-family="Liberation Serif" font-style="normal" font-size="11.8" stroke="#000" stroke-width="0.15">=</text>
<text transform="translate(906.47 346.70) scale(1.180 1.000)" font-family="Liberation Serif" font-style="normal" font-size="11.8" stroke="#000" stroke-width="0.018">1</text>
<text transform="translate(917.03 324.80) scale(0.890 1.000)" font-family="Liberation Serif" font-style="italic" font-size="15.8" stroke="#000" stroke-width="0.2">π</text>
<text transform="translate(927.24 324.29) scale(1.250 1.012)" font-family="Liberation Serif" font-style="normal" font-size="15.8">(</text>
<text transform="translate(935.11 324.80) scale(0.937 1.000)" font-family="Liberation Serif" font-style="italic" font-size="15.8" stroke="#000" stroke-width="0.2">A</text>
<text transform="translate(944.93 328.70) scale(1.086 1.000)" font-family="Liberation Serif" font-style="italic" font-size="11.8" stroke="#000" stroke-width="0.151">k</text>
<rect x="954.90" y="313.50" width="1.20" height="14.50" fill="#000"/>
<text transform="translate(957.81 324.80) scale(0.979 1.000)" font-family="Liberation Serif" font-style="italic" font-size="15.8" stroke="#000" stroke-width="0.2">S</text>
<text transform="translate(966.22 328.70) scale(0.883 1.000)" font-family="Liberation Serif" font-style="italic" font-size="11.8" stroke="#000" stroke-width="0.2">i</text>
<text transform="translate(970.73 324.80) scale(1.062 1.000)" font-family="Liberation Serif" font-style="normal" font-size="15.8" stroke="#000" stroke-width="0.103">;</text>
<text transform="translate(979.65 324.80) scale(0.967 1.000)" font-family="Liberation Serif" font-style="italic" font-size="15.8" stroke="#000" stroke-width="0.2">θ</text>
<text transform="translate(989.01 324.29) scale(1.157 1.012)" font-family="Liberation Serif" font-style="normal" font-size="15.8" stroke="#000" stroke-width="0.031">)</text>
<text transform="translate(996.36 324.80) scale(1.065 1.000)" font-family="Liberation Serif" font-style="normal" font-size="15.8" stroke="#000" stroke-width="0.101">ln</text>
<text transform="translate(1014.43 324.80) scale(0.890 1.000)" font-family="Liberation Serif" font-style="italic" font-size="15.8" stroke="#000" stroke-width="0.2">π</text>
<text transform="translate(1024.64 324.29) scale(1.250 1.012)" font-family="Liberation Serif" font-style="normal" font-size="15.8">(</text>
<text transform="translate(1031.98 324.80) scale(0.899 1.000)" font-family="Liberation Serif" font-style="italic" font-size="15.8" stroke="#000" stroke-width="0.2">A</text>
<text transform="translate(1041.82 328.70) scale(1.106 1.000)" font-family="Liberation Serif" font-style="italic" font-size="11.8" stroke="#000" stroke-width="0.14">k</text>
<rect x="1051.85" y="313.50" width="1.20" height="14.50" fill="#000"/>
<text transform="translate(1055.22 324.80) scale(0.925 1.000)" font-family="Liberation Serif" font-style="italic" font-size="15.8" stroke="#000" stroke-width="0.2">S</text>
<text transform="translate(1063.09 328.70) scale(0.927 1.000)" font-family="Liberation Serif" font-style="italic" font-size="11.8" stroke="#000" stroke-width="0.2">i</text>
<text transform="translate(1067.76 324.80) scale(1.019 1.000)" font-family="Liberation Serif" font-style="normal" font-size="15.8" stroke="#000" stroke-width="0.135">;</text>
<text transform="translate(1076.15 324.80) scale(0.967 1.000)" font-family="Liberation Serif" font-style="italic" font-size="15.8" stroke="#000" stroke-width="0.2">θ</text>
<text transform="translate(1085.53 324.29) scale(1.250 1.012)" font-family="Liberation Serif" font-style="normal" font-size="15.8">)</text>
<text transform="translate(792.47 411.90) scale(0.887 1.000)" font-family="Liberation Serif" font-style="italic" font-size="15.8" stroke="#000" stroke-width="0.2">L</text>
<text transform="translate(801.06 415.40) scale(1.035 1.000)" font-family="Liberation Serif" font-style="italic" font-size="11.8" stroke="#000" stroke-width="0.18">RND</text>
<text transform="translate(828.21 411.93) scale(1.133 1.061)" font-family="Liberation Serif" font-style="normal" font-size="15.8" stroke="#000" stroke-width="0.049">(</text>
<text transform="translate(835.04 411.90) scale(0.982 1.000)" font-family="Liberation Serif" font-style="italic" font-size="15.8" stroke="#000" stroke-width="0.2">θ</text>
<text transform="translate(844.18 411.93) scale(1.231 1.061)" font-family="Liberation Serif" font-style="normal" font-size="15.8">)</text>
<rect x="857.60" y="405.05" width="9.90" height="1.00" fill="#000"/>
<rect x="857.60" y="408.15" width="9.90" height="1.00" fill="#000"/>
<rect x="874.10" y="407.10" width="41.50" height="1.00" fill="#000"/>
<text transform="translate(890.15 400.00) scale(1.115 1.000)" font-family="Liberation Serif" font-style="normal" font-size="15.8" stroke="#000" stroke-width="0.033">1</text>
<text transform="translate(874.52 423.50) scale(0.979 1.000)" font-family="Liberation Serif" font-style="normal" font-size="15.8" stroke="#000" stroke-width="0.25">2</text>
<text transform="translate(882.68 423.50) scale(0.923 1.000)" font-family="Liberation Serif" font-style="italic" font-size="15.8" stroke="#000" stroke-width="0.2">M</text>
<text transform="translate(897.38 423.50) scale(1.350 1.000)" font-family="Liberation Serif" font-style="italic" font-size="15.8">n</text>
<text transform="translate(907.89 426.90) scale(1.130 1.000)" font-family="Liberation Serif" font-style="italic" font-size="11.8" stroke="#000" stroke-width="0.126">e</text>
<path d="M918.70,390.90 L939.10,390.90 L939.10,395.62 L938.18,395.62 L937.67,393.10 L936.45,392.22 L922.58,392.22 L932.78,406.33 L920.74,420.35 L936.24,420.35 L937.67,419.25 L938.18,416.73 L939.10,416.73 L939.10,422.40 L918.70,422.40 L918.70,421.52 L931.25,406.33 L918.70,391.53 Z" fill="#000"/>
<text transform="translate(924.61 387.00) scale(0.808 1.000)" font-family="Liberation Serif" font-style="italic" font-size="11.8" stroke="#000" stroke-width="0.2">M</text>
<text transform="translate(919.29 433.70) scale(1.070 1.000)" font-family="Liberation Serif" font-style="italic" font-size="11.8" stroke="#000" stroke-width="0.16">i</text>
<rect x="923.88" y="428.05" width="6.38" height="0.90" fill="#000"/>
<rect x="923.88" y="431.05" width="6.38" height="0.90" fill="#000"/>
<text transform="translate(931.28 433.70) scale(1.350 1.000)" font-family="Liberation Serif" font-style="normal" font-size="11.8">1</text>
<rect x="942.60" y="397.00" width="1.30" height="20.50" fill="#000"/>
<rect x="946.10" y="397.00" width="1.30" height="20.50" fill="#000"/>
<text transform="translate(949.68 411.80) scale(1.150 1.070)" font-family="Liberation Serif" font-style="italic" font-size="15.8">f</text>
<text transform="translate(953.97 409.93) scale(0.881 1.232)" font-family="Liberation Serif" font-style="normal" font-size="15.8" stroke="#000" stroke-width="0.15">ˆ</text>
<text transform="translate(956.66 415.70) scale(1.112 1.000)" font-family="Liberation Serif" font-style="italic" font-size="11.8" stroke="#000" stroke-width="0.136">θ</text>
<text transform="translate(966.21 411.30) scale(1.133 1.040)" font-family="Liberation Serif" font-style="normal" font-size="15.8" stroke="#000" stroke-width="0.049">(</text>
<text transform="translate(972.73 411.44) scale(0.848 0.989)" font-family="Liberation Serif" font-style="italic" font-size="15.8" stroke="#000" stroke-width="0.2">O</text>
<text transform="translate(983.53 415.50) scale(1.015 1.000)" font-family="Liberation Serif" font-style="italic" font-size="11.8" stroke="#000" stroke-width="0.191">i</text>
<text transform="translate(988.69 411.30) scale(1.010 1.040)" font-family="Liberation Serif" font-style="normal" font-size="15.8" stroke="#000" stroke-width="0.143">)</text>
<rect x="1000.60" y="406.90" width="10.10" height="1.00" fill="#000"/>
<text transform="translate(1016.18 411.87) scale(1.150 1.049)" font-family="Liberation Serif" font-style="italic" font-size="15.8">f</text>
<text transform="translate(1026.33 411.43) scale(1.108 1.061)" font-family="Liberation Serif" font-style="normal" font-size="15.8" stroke="#000" stroke-width="0.068">(</text>
<text transform="translate(1033.15 411.35) scale(0.829 0.951)" font-family="Liberation Serif" font-style="italic" font-size="15.8" stroke="#000" stroke-width="0.2">O</text>
<text transform="translate(1043.37 415.50) scale(1.103 1.000)" font-family="Liberation Serif" font-style="italic" font-size="11.8" stroke="#000" stroke-width="0.141">i</text>
<text transform="translate(1048.68 411.43) scale(1.034 1.061)" font-family="Liberation Serif" font-style="normal" font-size="15.8" stroke="#000" stroke-width="0.124">)</text>
<rect x="1057.40" y="397.10" width="1.30" height="20.60" fill="#000"/>
<rect x="1061.30" y="397.10" width="1.30" height="20.60" fill="#000"/>
<text transform="translate(1065.25 400.40) scale(1.057 0.832)" font-family="Liberation Serif" font-style="normal" font-size="11.8" stroke="#000" stroke-width="0.218">2</text>
<text transform="translate(1065.25 419.40) scale(1.057 0.883)" font-family="Liberation Serif" font-style="normal" font-size="11.8" stroke="#000" stroke-width="0.218">2</text>
</svg>
</body></html>
